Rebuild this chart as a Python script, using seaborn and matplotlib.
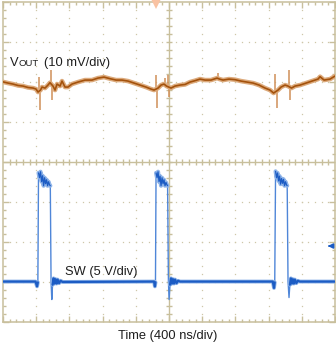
import matplotlib
matplotlib.use("Agg")
import matplotlib.pyplot as plt
import numpy as np
import pandas as pd
import seaborn as sns

# Scope settings
TIME_PER_DIV_NS = 400
SW_V_PER_DIV = 5
VOUT_MV_PER_DIV = 10
SW_GROUND_DIV = -3.0      # SW channel ground level (divisions from centre)
VOUT_OFFSET_DIV = 2.0     # VOUT channel AC-coupled offset
TRIGGER_T_NS = 1843
TRIGGER_LEVEL_V = 4.45

# VOUT ripple (AC coupled, mV)
vout_t_ns = [0, 60, 120, 181, 241, 301, 362, 398, 422, 452, 470, 506, 542, 566,
             602, 627, 651, 687, 711, 747, 783, 831, 904, 988, 1072, 1145,
             1217, 1289, 1362, 1434, 1506, 1579, 1651, 1723, 1783, 1820, 1868,
             1904, 1940, 1970, 2024, 2073, 2133, 2193, 2253, 2314, 2374, 2434,
             2506, 2579, 2609, 2651, 2723, 2796, 2868, 2940, 3013, 3085, 3157,
             3217, 3260, 3314, 3350, 3398, 3434, 3476, 3519, 3579, 3651, 3723,
             3796, 3820, 3868, 3940, 4000]
vout_mv = [0.0, -0.3, -0.55, -0.9, -1.05, -1.4, -1.55, -1.8, -2.55, -2.05,
           -1.3, -1.55, -0.8, -0.2, -1.05, -2.05, -0.55, -1.05, 0.2, -1.3,
           -1.3, -0.55, -0.05, 0.45, 0.45, 0.95, 1.2, 0.8, 0.45, 0.45, 0.2,
           -0.3, -0.8, -1.3, -1.8, -2.05, -1.55, -0.8, -0.55, -1.05, -1.55,
           -1.05, -0.8, -0.65, -0.05, 0.3, 0.7, 0.45, 0.45, 0.95, 0.7, 0.45,
           0.7, 0.55, 0.2, -0.05, -0.3, -0.8, -1.55, -2.05, -2.8, -2.05,
           -1.3, -0.8, -1.05, -1.55, -1.05, -0.8, -0.3, 0.2, 0.7, 1.3, 0.45,
           0.7, 1.45]

# VOUT switching spikes: time, upper and lower excursion (mV)
vout_spike_t_ns = [434, 442, 578, 590, 1838, 1850, 1952, 1988, 2000, 2591,
                   3278, 3296, 3446, 3458]
vout_spike_hi_mv = [1.2, -1.5, 2.95, -0.5, 1.7, -1.5, 0.95, 1.7, -1.0, 2.2,
                    1.95, -2.0, 2.95, -1.0]
vout_spike_lo_mv = [-2.5, -7.05, -0.5, -4.55, -2.0, -6.55, -0.6, -1.0, -3.8,
                    0.5, -2.5, -6.55, -1.0, -4.55]

# Switch node voltage (V)
sw_t_ns = [0, 392, 410, 420, 428, 440, 452, 465, 477, 489, 501, 513, 525, 537,
           549, 561, 570, 579, 588, 597, 609, 621, 633, 646, 658, 676, 694, 718,
           1820, 1830, 1837, 1844, 1856, 1868, 1880, 1892, 1904, 1916, 1928,
           1940, 1952, 1964, 1976, 1983, 1993, 2001, 2012, 2024, 2036, 2048,
           2060, 2073, 2091, 2109, 2133,
           3250, 3265, 3274, 3284, 3296, 3308, 3320, 3332, 3344, 3356, 3368,
           3380, 3392, 3404, 3416, 3424, 3434, 3446, 3456, 3468, 3480, 3492,
           3504, 3516, 3534, 3552, 3576, 4000]
sw_v = [0.0, 0.0, -0.6, -0.1, 13.6, 13.0, 13.75, 12.5, 13.25, 12.0, 13.0, 12.25,
        12.75, 12.0, 12.5, 12.1, 12.0, 0.0, -2.25, -0.4, 0.4, -0.25, 0.3, -0.25,
        0.25, -0.2, 0.1, -0.05,
        0.0, -0.6, -0.1, 13.6, 13.0, 13.75, 12.5, 13.2, 12.0, 13.0, 12.25,
        12.75, 12.0, 12.4, 12.1, 12.0, 0.0, -2.25, -0.4, 0.4, -0.25, 0.3,
        -0.25, 0.25, -0.2, 0.1, 0.0,
        0.0, -0.8, -0.1, 13.8, 13.0, 13.6, 12.6, 13.2, 12.2, 12.9, 12.3,
        12.8, 12.0, 12.5, 12.1, 12.0, 0.0, -2.0, -0.4, 0.4, -0.25, 0.3,
        -0.25, 0.25, -0.2, 0.1, 0.0, 0.0]

GRAT = "#c8bf9c"
GRAT_DOT = "#cfc7a8"
VOUT_CORE, VOUT_HALO, VOUT_SPIKE = "#a4520c", "#dcaa7c", "#d09058"
SW_CORE, SW_HALO, SW_EDGE = "#1c5cc4", "#8fb4e8", "#4f86d8"

vout = pd.DataFrame({
    "t": np.array(vout_t_ns) / TIME_PER_DIV_NS,
    "y": np.array(vout_mv) / VOUT_MV_PER_DIV + VOUT_OFFSET_DIV,
})
sw_v_arr = np.array(sw_v)
sw = pd.DataFrame({
    "t": np.array(sw_t_ns) / TIME_PER_DIV_NS,
    "y": sw_v_arr / SW_V_PER_DIV + SW_GROUND_DIV,
})
# Split the switch waveform into runs of low state and high state
state = np.where(sw_v_arr > 10.0, "high",
                 np.where(np.abs(sw_v_arr) < 1.0, "low", "edge"))
sw["state"] = state
sw["run"] = np.concatenate([[0], np.cumsum(state[1:] != state[:-1])])
sw_low = sw[sw["state"] == "low"]
sw_high = sw[sw["state"] == "high"]

sns.set_theme(style="white")
plt.rcParams["font.family"] = ["Liberation Sans", "DejaVu Sans"]

W, H = 336, 343
fig = plt.figure(figsize=(W / 100, H / 100), dpi=100)
fig.patch.set_facecolor("white")
ax = fig.add_axes([3 / W, (H - 321.5) / H, 332 / W, 319.5 / H])
ax.set_facecolor("white")
ax.set_xlim(0, 10)
ax.set_ylim(-4, 4)

# Graticule: border, ticks, dotted grid and centre cross
for s in ax.spines.values():
    s.set_color(GRAT)
    s.set_linewidth(1.1)
ax.set_xticks(np.arange(0, 11, 1))
ax.set_xticks(np.arange(0, 10.01, 0.2), minor=True)
ax.set_yticks(np.arange(-4, 5, 1))
ax.set_yticks(np.arange(-4, 4.01, 0.2), minor=True)
ax.tick_params(which="both", direction="in", top=True, right=True,
               bottom=True, left=True, labelbottom=False, labelleft=False,
               color=GRAT, width=1.0)
ax.tick_params(which="major", length=4.5)
ax.tick_params(which="minor", length=2.2)

xm = np.arange(0.2, 10, 0.2)
ym = np.arange(-3.8, 4, 0.2)
for gx in [1, 2, 3, 4, 6, 7, 8, 9]:
    ax.plot(np.full_like(ym, gx), ym, ls="none", marker="s", ms=0.9,
            mew=0, color=GRAT_DOT, zorder=1)
for gy in [-3, -2, -1, 1, 2, 3]:
    ax.plot(xm, np.full_like(xm, gy), ls="none", marker="s", ms=0.9,
            mew=0, color=GRAT_DOT, zorder=1)
ax.axhline(0, color=GRAT, lw=1.0, zorder=1)
ax.axvline(5, color=GRAT, lw=1.0, zorder=1)
ax.plot(xm, np.zeros_like(xm), ls="none", marker="|", ms=4.6, mew=1.0,
        color=GRAT, zorder=1)
ax.plot(np.full_like(ym, 5), ym, ls="none", marker="_", ms=4.6, mew=1.0,
        color=GRAT, zorder=1)

# VOUT: switching spikes as thin strokes, ripple as halo plus dark core
st = np.array(vout_spike_t_ns) / TIME_PER_DIV_NS
ax.vlines(st, np.array(vout_spike_lo_mv) / VOUT_MV_PER_DIV + VOUT_OFFSET_DIV,
          np.array(vout_spike_hi_mv) / VOUT_MV_PER_DIV + VOUT_OFFSET_DIV,
          color=VOUT_SPIKE, lw=1.1, zorder=3)
sns.lineplot(data=vout, x="t", y="y", sort=False, estimator=None, ax=ax,
             color=VOUT_HALO, lw=3.3, zorder=3)
sns.lineplot(data=vout, x="t", y="y", sort=False, estimator=None, ax=ax,
             color=VOUT_CORE, lw=1.2, zorder=4)

# SW: thin edges, light high level, dark low level
sns.lineplot(data=sw, x="t", y="y", sort=False, estimator=None, ax=ax,
             color=SW_EDGE, lw=1.0, zorder=3)
sns.lineplot(data=sw_high, x="t", y="y", units="run", sort=False,
             estimator=None, ax=ax, color=SW_HALO, lw=3.0, zorder=3)
sns.lineplot(data=sw_high, x="t", y="y", units="run", sort=False,
             estimator=None, ax=ax, color=SW_CORE, lw=0.9, zorder=4)
sns.lineplot(data=sw_low, x="t", y="y", units="run", sort=False,
             estimator=None, ax=ax, color=SW_HALO, lw=2.8, zorder=3)
sns.lineplot(data=sw_low, x="t", y="y", units="run", sort=False,
             estimator=None, ax=ax, color=SW_CORE, lw=1.6, zorder=4)
ax.set_xlabel("")
ax.set_ylabel("")

# Trigger position and trigger level markers
ax.plot([TRIGGER_T_NS / TIME_PER_DIV_NS], [3.94], marker="v", ms=6.5,
        color="#f9c2a2", mew=0, clip_on=False, zorder=5)
lvl = TRIGGER_LEVEL_V / SW_V_PER_DIV + SW_GROUND_DIV
ax.annotate("", xy=(9.7, lvl), xytext=(9.95, lvl),
            arrowprops=dict(arrowstyle="-|>", color=SW_CORE, lw=1.2,
                            mutation_scale=7), zorder=5)

# Channel labels
fs = 9.3
TXT = "#1e1e1e"
fig.text(9.5 / W, 1 - 66 / H, "V", fontsize=fs, color=TXT, va="baseline")
fig.text(18.2 / W, 1 - 66 / H, "OUT", fontsize=6.8, color=TXT, va="baseline")
fig.text(44 / W, 1 - 66 / H, "(10 mV/div)", fontsize=fs, color=TXT,
         va="baseline")
fig.text(65 / W, 1 - 274.5 / H, "SW (5 V/div)", fontsize=fs, color=TXT,
         va="baseline")
fig.text(167.5 / W, 1 - 339 / H, "Time (400 ns/div)", fontsize=fs,
         color=TXT, ha="center", va="baseline")

fig.savefig("out.png", dpi=100, facecolor="white")
